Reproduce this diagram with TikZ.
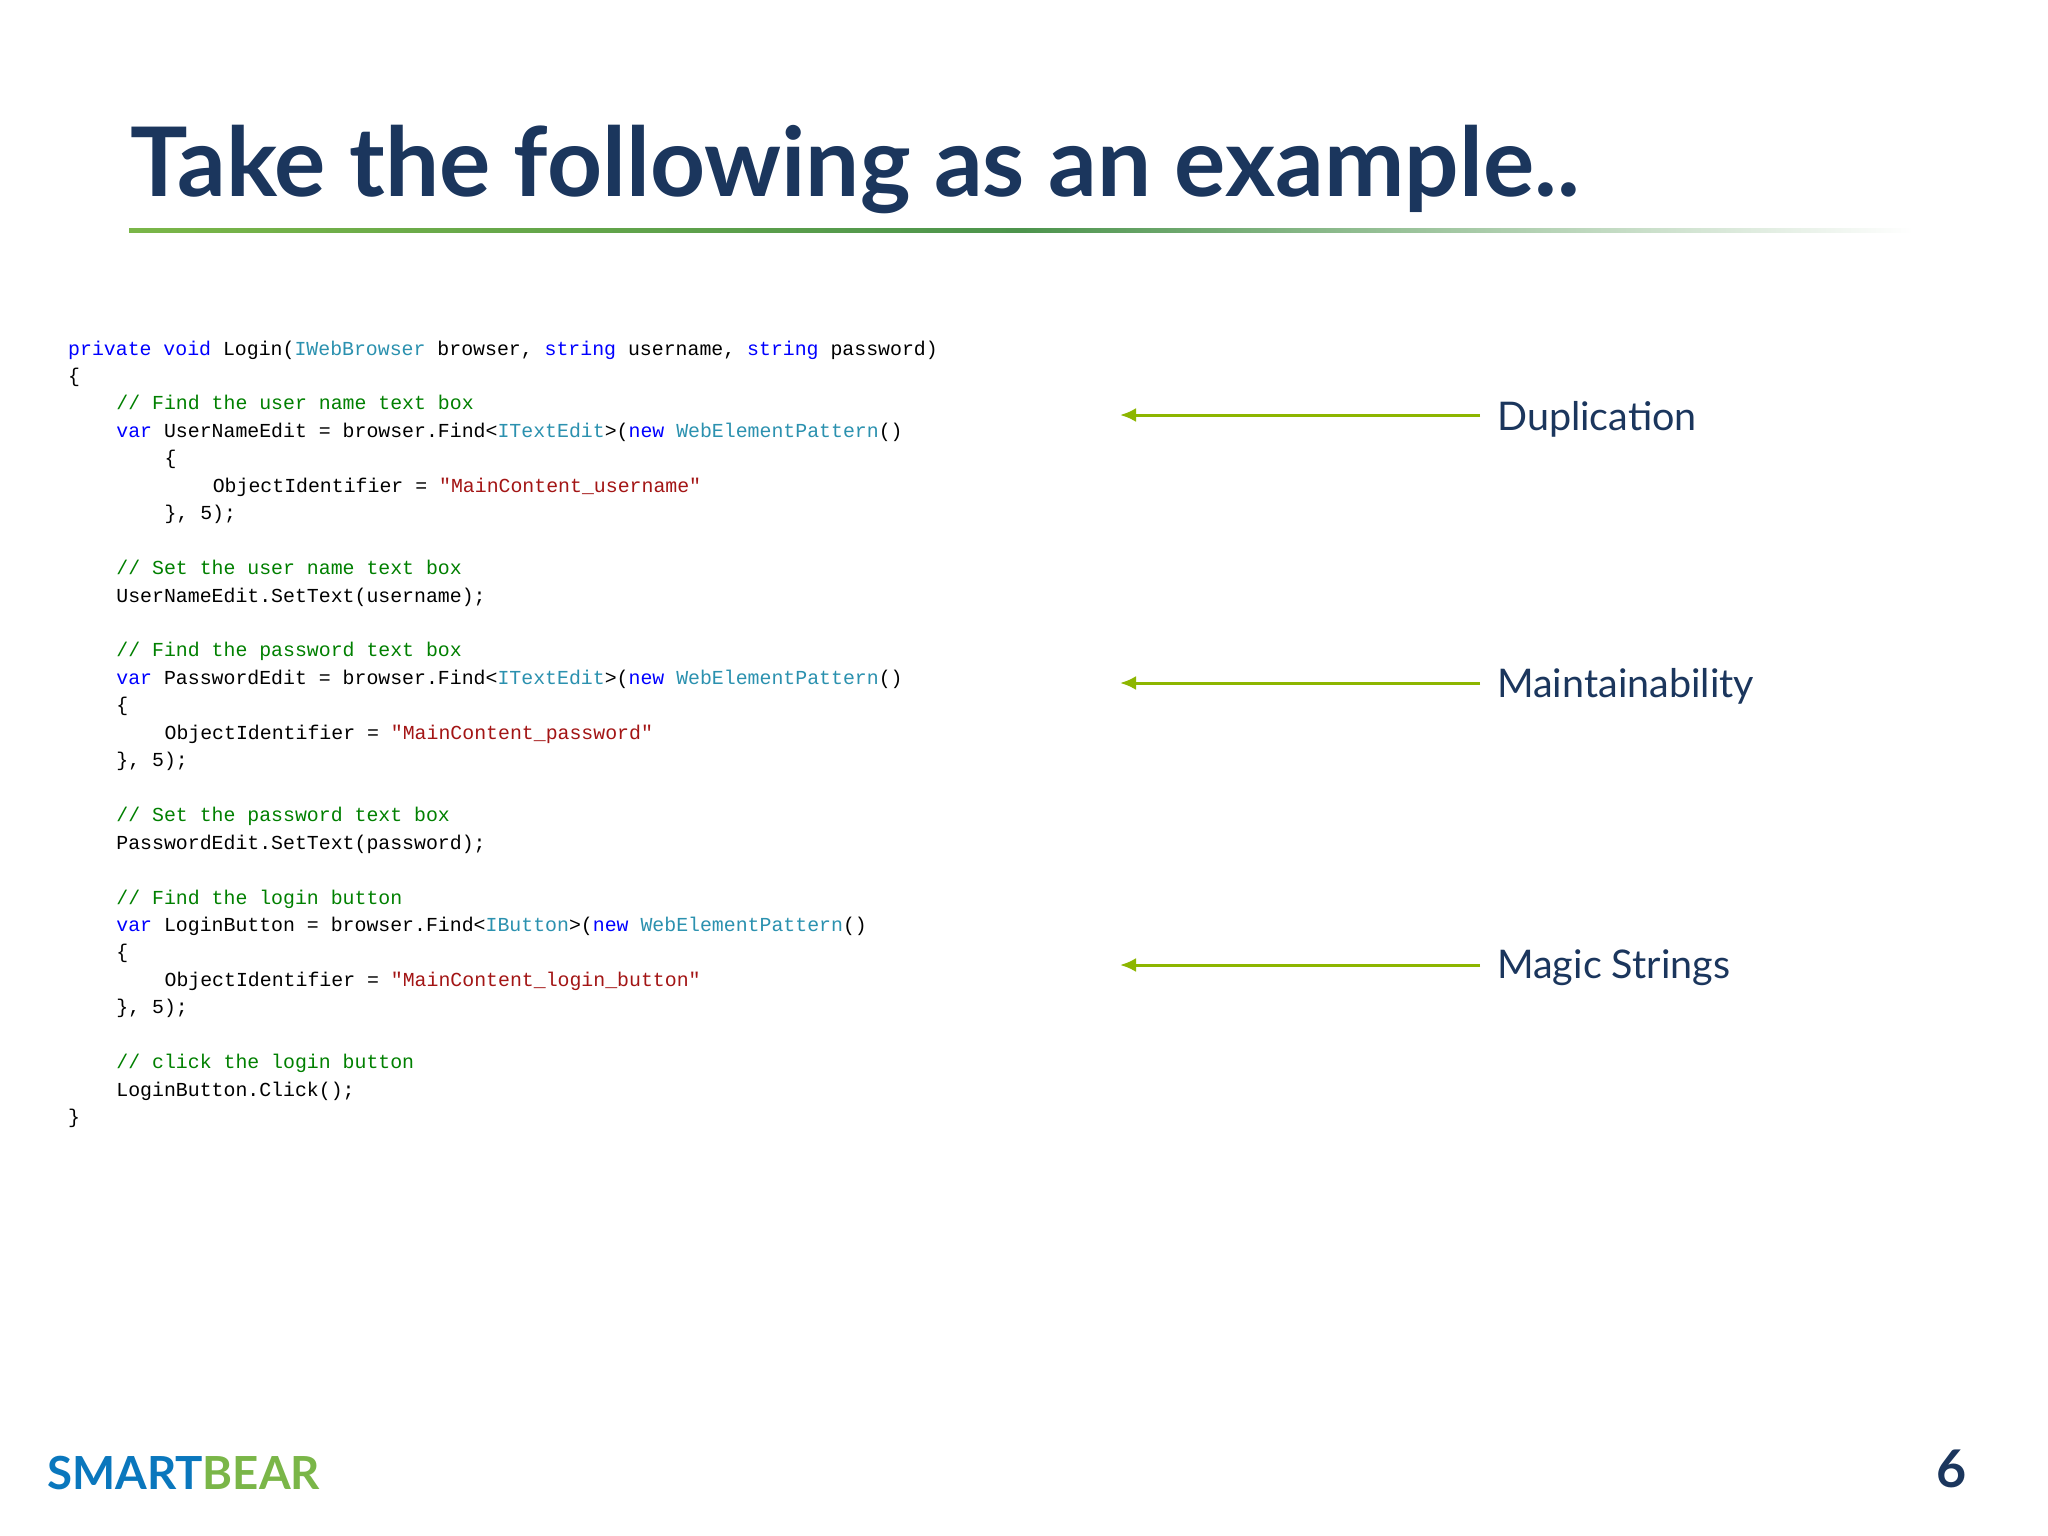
\documentclass[tikz,border=0pt]{standalone}
\usepackage{fontspec}
\usetikzlibrary{arrows.meta}
\setmainfont{Lato}
\newfontfamily\codefont{Liberation Mono}
\newfontfamily\titlefont{Lato}
\definecolor{navy}{HTML}{1B365D}
\definecolor{kw}{HTML}{0000FF}
\definecolor{ty}{HTML}{2B91AF}
\definecolor{cm}{HTML}{008000}
\definecolor{st}{HTML}{A31515}
\definecolor{arr}{HTML}{8DB600}
\definecolor{sbblue}{HTML}{0A77BD}
\definecolor{sbgreen}{HTML}{7AB648}
\newcommand{\K}[1]{\textcolor{kw}{#1}}
\newcommand{\T}[1]{\textcolor{ty}{#1}}
\newcommand{\C}[1]{\textcolor{cm}{#1}}
\newcommand{\Q}{\symbol{34}}
\newcommand{\Sx}[1]{\textcolor{st}{\Q#1\Q}}
\begin{document}
\begin{tikzpicture}[x=1pt,y=-1pt,
  code/.style={anchor=base west,inner sep=0pt,font=\codefont\fontsize{19.85}{20}\selectfont},
  lbl/.style={anchor=west,inner sep=0pt,text=navy,font=\fontsize{39.5}{42}\selectfont},
  pointer/.style={draw=arr,line width=3pt,-{Latex[length=16pt,width=14pt]}}]
\useasboundingbox (0,0) rectangle (2048,1536);
\fill[white] (0,0) rectangle (2048,1536);
\node[anchor=base west,inner sep=0pt,text=navy,font=\titlefont\bfseries\fontsize{96}{100}\selectfont] (title) at (130,196) {Take the following as an example..};
\shade[left color=sbgreen, right color=white, middle color=green!40!black!70] (129,228) rectangle (1913,232);
\def\L{27.45}
\foreach \i/\ind/\txt in {
 0/0/{\K{private} \K{void} Login(\T{IWebBrowser} browser, \K{string} username, \K{string} password)},
 1/0/{\{},
 2/1/{\C{// Find the user name text box}},
 3/1/{\K{var} UserNameEdit = browser.Find<\T{ITextEdit}>(\K{new} \T{WebElementPattern}()},
 4/2/{\{},
 5/3/{ObjectIdentifier = \Sx{MainContent\_username}},
 6/2/{\}, 5);},
 8/1/{\C{// Set the user name text box}},
 9/1/{UserNameEdit.SetText(username);},
 11/1/{\C{// Find the password text box}},
 12/1/{\K{var} PasswordEdit = browser.Find<\T{ITextEdit}>(\K{new} \T{WebElementPattern}()},
 13/1/{\{},
 14/2/{ObjectIdentifier = \Sx{MainContent\_password}},
 15/1/{\}, 5);},
 17/1/{\C{// Set the password text box}},
 18/1/{PasswordEdit.SetText(password);},
 20/1/{\C{// Find the login button}},
 21/1/{\K{var} LoginButton = browser.Find<\T{IButton}>(\K{new} \T{WebElementPattern}()},
 22/1/{\{},
 23/2/{ObjectIdentifier = \Sx{MainContent\_login\_button}},
 24/1/{\}, 5);},
 26/1/{\C{// click the login button}},
 27/1/{LoginButton.Click();},
 28/0/{\}}}
 \node[code] (c\i) at ({68+\ind*48.2},{355+\i*\L}) {\txt};
\node[lbl] (dup) at (1497,419) {Duplication};
\node[lbl] (mai) at (1497,686) {Maintainability};
\node[lbl] (mag) at (1497,968) {Magic Strings};
\coordinate (d0) at (1120,415);
\coordinate (m0) at (1120,683);
\coordinate (g0) at (1120,965);
\draw[pointer] (dup.west|-d0) ++(-17,0) -- (d0);
\draw[pointer] (mai.west|-m0) ++(-17,0) -- (m0);
\draw[pointer] (mag.west|-g0) ++(-17,0) -- (g0);
\node[anchor=base west,inner sep=0pt,font=\bfseries\fontsize{45.6}{48}\selectfont] (logo) at (47,1489) {\textcolor{sbblue}{SMART}\textcolor{sbgreen}{BEAR}};
\node[anchor=base east,inner sep=0pt,text=navy,font=\bfseries\fontsize{52}{56}\selectfont] (pg) at (1967,1487) {6};
\end{tikzpicture}
\end{document}
